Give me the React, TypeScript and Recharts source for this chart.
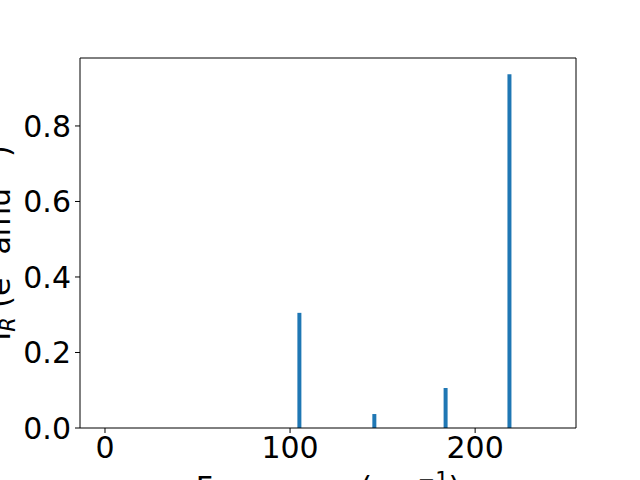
import React from 'react';
import { ComposedChart, Bar, XAxis, YAxis, ReferenceLine } from 'recharts';

const frequencies = [105, 145.5, 184, 218.5];
const intensities = [0.305, 0.037, 0.106, 0.937];
const xTicks = [0, 100, 200];
const yTicks = [0, 0.2, 0.4, 0.6, 0.8];

const data = frequencies.map((f, i) => ({ freq: f, ir: intensities[i] }));

const FONT = 'DejaVu Sans';
const X_MIN = -13.5;
const X_MAX = 254.5;
const Y_MAX = 0.98;

const XLabel = (props: any) => {
  const vb = props.viewBox || {};
  const cx = vb.x + vb.width / 2;
  return (
    <text x={cx} y={498} textAnchor="middle" fontFamily={FONT} fontSize={30} fill="#000">
      Frequency (cm
      <tspan dy={-11} fontSize={21} fill="#000">−1</tspan>
      <tspan dy={11} fill="#000">)</tspan>
    </text>
  );
};

const YLabel = (props: any) => {
  const vb = props.viewBox || {};
  const cy = vb.y + vb.height / 2;
  const x = 10;
  return (
    <text
      x={x}
      y={cy}
      transform={`rotate(-90, ${x}, ${cy})`}
      textAnchor="middle"
      fontFamily={FONT}
      fontSize={30}
      fill="#000"
    >
      I<tspan dy={5} fontSize={21} fontStyle="italic" fill="#000">R</tspan>
      <tspan dy={-5} fill="#000"> (e</tspan>
      <tspan dy={-12} fontSize={21} fill="#000">2</tspan>
      <tspan dy={12} fill="#000"> amu</tspan>
      <tspan dy={-12} fontSize={21} fill="#000">−1</tspan>
      <tspan dy={12} fill="#000">)</tspan>
    </text>
  );
};

export default function App() {
  return (
    <div style={{ position: 'absolute', left: 0, top: 0, width: 640, height: 480, background: '#fff', overflow: 'hidden' }}>
      <ComposedChart
        width={640}
        height={480}
        data={data}
        margin={{ top: 58, right: 64, bottom: 0, left: 0 }}
      >
        <XAxis
          dataKey="freq"
          type="number"
          domain={[X_MIN, X_MAX]}
          ticks={xTicks}
          allowDataOverflow
          height={52}
          tickSize={5}
          tickMargin={4}
          stroke="#000"
          tick={{ fill: '#000', fontSize: 30, fontFamily: FONT }}
          axisLine={{ stroke: '#000', strokeWidth: 1 }}
          tickLine={{ stroke: '#000' }}
          label={<XLabel />}
        />
        <YAxis
          type="number"
          domain={[0, Y_MAX]}
          ticks={yTicks}
          allowDataOverflow
          width={80}
          tickSize={5}
          tickMargin={4}
          stroke="#000"
          tickFormatter={(v: number) => v.toFixed(1)}
          tick={{ fill: '#000', fontSize: 30, fontFamily: FONT }}
          axisLine={{ stroke: '#000', strokeWidth: 1 }}
          tickLine={{ stroke: '#000' }}
          label={<YLabel />}
        />
        <ReferenceLine y={Y_MAX} stroke="#000" strokeWidth={1} ifOverflow="visible" />
        <ReferenceLine x={X_MAX} stroke="#000" strokeWidth={1} ifOverflow="visible" />
        <Bar dataKey="ir" fill="#1f77b4" barSize={4} isAnimationActive={false} />
      </ComposedChart>
    </div>
  );
}
